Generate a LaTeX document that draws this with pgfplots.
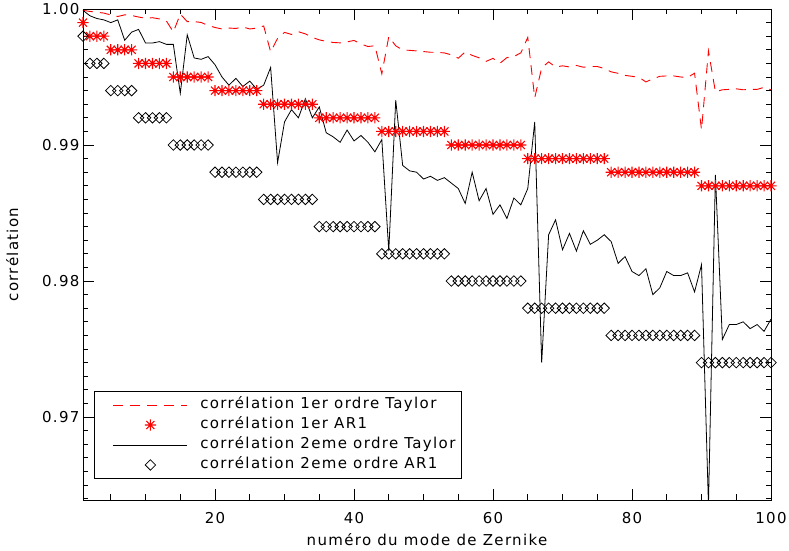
\documentclass[border=0pt]{standalone}
\usepackage{fontspec}
\setmainfont{DejaVu Sans}[LetterSpace=9]
\usepackage{pgfplots}
\usepackage{pgfplotstable}
\pgfplotsset{compat=1.18}

\pgfdeclareplotmark{ast8}{%
  \pgfpathmoveto{\pgfqpoint{0pt}{\pgfplotmarksize}}\pgfpathlineto{\pgfqpoint{0pt}{-\pgfplotmarksize}}%
  \pgfpathmoveto{\pgfqpoint{\pgfplotmarksize}{0pt}}\pgfpathlineto{\pgfqpoint{-\pgfplotmarksize}{0pt}}%
  \pgfpathmoveto{\pgfqpoint{0.72\pgfplotmarksize}{0.72\pgfplotmarksize}}\pgfpathlineto{\pgfqpoint{-0.72\pgfplotmarksize}{-0.72\pgfplotmarksize}}%
  \pgfpathmoveto{\pgfqpoint{-0.72\pgfplotmarksize}{0.72\pgfplotmarksize}}\pgfpathlineto{\pgfqpoint{0.72\pgfplotmarksize}{-0.72\pgfplotmarksize}}%
  \pgfusepathqstroke}

\pgfplotstableread{
n t1 a1 t2 a2
1 0.9999 0.999 0.9999 0.998
2 0.99982 0.998 0.9995 0.996
3 0.99976 0.998 0.9993 0.996
4 0.9997 0.998 0.9992 0.996
5 0.99956 0.997 0.9990 0.994
6 0.99945 0.997 0.9992 0.994
7 0.99957 0.997 0.9977 0.994
8 0.99952 0.997 0.9983 0.994
9 0.99941 0.996 0.9985 0.992
10 0.99932 0.996 0.9975 0.992
11 0.99936 0.996 0.9975 0.992
12 0.99927 0.996 0.9976 0.992
13 0.99912 0.996 0.9974 0.992
14 0.99831 0.995 0.9974 0.990
15 0.99963 0.995 0.9938 0.990
16 0.99907 0.995 0.9981 0.990
17 0.99907 0.995 0.9964 0.990
18 0.99901 0.995 0.9963 0.990
19 0.99879 0.995 0.9965 0.990
20 0.99864 0.994 0.9959 0.988
21 0.99853 0.994 0.9950 0.988
22 0.9986 0.994 0.9944 0.988
23 0.99857 0.994 0.9949 0.988
24 0.99868 0.994 0.9943 0.988
25 0.99853 0.994 0.9947 0.988
26 0.9986 0.994 0.9941 0.988
27 0.99875 0.993 0.9944 0.986
28 0.99685 0.993 0.9957 0.986
29 0.99784 0.993 0.9887 0.986
30 0.99828 0.993 0.9917 0.986
31 0.99813 0.993 0.9926 0.986
32 0.99833 0.993 0.9920 0.986
33 0.99817 0.993 0.9934 0.986
34 0.99791 0.993 0.9920 0.986
35 0.99773 0.992 0.9928 0.984
36 0.99762 0.992 0.9909 0.984
37 0.99754 0.992 0.9906 0.984
38 0.99751 0.992 0.9902 0.984
39 0.99758 0.992 0.9911 0.984
40 0.99769 0.992 0.9903 0.984
41 0.99743 0.992 0.9907 0.984
42 0.99724 0.992 0.9902 0.984
43 0.9973 0.992 0.9895 0.984
44 0.99523 0.991 0.9904 0.982
45 0.99797 0.991 0.9822 0.982
46 0.99729 0.991 0.9933 0.982
47 0.99699 0.991 0.9885 0.982
48 0.99696 0.991 0.9881 0.982
49 0.99692 0.991 0.9880 0.982
50 0.99687 0.991 0.9875 0.982
51 0.99682 0.991 0.9877 0.982
52 0.99681 0.991 0.9874 0.982
53 0.99677 0.991 0.9876 0.982
54 0.99663 0.990 0.9872 0.980
55 0.99638 0.990 0.9868 0.980
56 0.99685 0.990 0.9857 0.980
57 0.99659 0.990 0.9880 0.980
58 0.99641 0.990 0.9859 0.980
59 0.99615 0.990 0.9868 0.980
60 0.99637 0.990 0.9849 0.980
61 0.99601 0.990 0.9856 0.980
62 0.99643 0.990 0.9846 0.980
63 0.99651 0.990 0.9861 0.980
64 0.99677 0.990 0.9856 0.980
65 0.99791 0.989 0.9868 0.978
66 0.99347 0.989 0.9917 0.978
67 0.99567 0.989 0.9740 0.978
68 0.99611 0.989 0.9834 0.978
69 0.99574 0.989 0.9845 0.978
70 0.99582 0.989 0.9823 0.978
71 0.99574 0.989 0.9835 0.978
72 0.99585 0.989 0.9822 0.978
73 0.99572 0.989 0.9837 0.978
74 0.99577 0.989 0.9827 0.978
75 0.99577 0.989 0.9830 0.978
76 0.99563 0.989 0.9834 0.978
77 0.99538 0.988 0.9829 0.976
78 0.99527 0.988 0.9813 0.976
79 0.99512 0.988 0.9818 0.976
80 0.99505 0.988 0.9807 0.976
81 0.99497 0.988 0.9804 0.976
82 0.99464 0.988 0.9809 0.976
83 0.99486 0.988 0.9790 0.976
84 0.99505 0.988 0.9795 0.976
85 0.99508 0.988 0.9807 0.976
86 0.99508 0.988 0.9804 0.976
87 0.995 0.988 0.9804 0.976
88 0.99497 0.988 0.9806 0.976
89 0.99528 0.988 0.9792 0.976
90 0.99112 0.987 0.9812 0.974
91 0.99692 0.987 0.9635 0.974
92 0.99391 0.987 0.9878 0.974
93 0.99406 0.987 0.9757 0.974
94 0.99409 0.987 0.9768 0.974
95 0.99413 0.987 0.9768 0.974
96 0.99406 0.987 0.9770 0.974
97 0.99409 0.987 0.9765 0.974
98 0.99409 0.987 0.9768 0.974
99 0.99424 0.987 0.9763 0.974
100 0.99406 0.987 0.9772 0.974
}\datatable

\begin{document}
\begin{tikzpicture}
\begin{axis}[
  scale only axis,
  width=688bp, height=491bp,
  at={(0,0)}, anchor=south west,
  xmin=1, xmax=100,
  ymin=0.9639, ymax=1.0,
  xtick={20,40,60,80,100},
  minor xtick={5,10,...,100},
  ytick={0.97,0.98,0.99,1.00},
  minor ytick={0.964,0.965,0.966,0.967,0.968,0.969,0.971,0.972,0.973,0.974,0.975,0.976,0.977,0.978,0.979,0.981,0.982,0.983,0.984,0.985,0.986,0.987,0.988,0.989,0.991,0.992,0.993,0.994,0.995,0.996,0.997,0.998,0.999},
  major tick length=11bp, minor tick length=5.5bp,
  tick style={black, line width=0.7bp},
  axis line style={black, line width=0.9bp},
  /pgf/number format/assume math mode=true,
  yticklabel style={/pgf/number format/.cd, fixed, fixed zerofill, precision=2},
  xticklabel style={yshift=-9bp, /pgf/number format/.cd, fixed, precision=0},
  ticklabel style={font=\fontsize{15bp}{18bp}\selectfont},
  label style={font=\fontsize{15bp}{18bp}\selectfont},
  xlabel={numéro du mode de Zernike},
  ylabel={corrélation},
  xlabel style={at={(axis description cs:0.5,-0.0815)}, anchor=center},
  ylabel style={at={(axis description cs:-0.103,0.5)}, anchor=center},
  legend cell align=left,
  legend image code/.code={\path[draw=none] (-15bp,-1bp) rectangle (0bp,1bp); \draw[mark repeat=2,mark phase=2,#1] plot coordinates {(0bp,0bp) (37bp,0bp) (74bp,0bp)};},
  legend style={at={(0.016,0.043)}, anchor=south west, draw=black, line width=0.8bp, fill=white,
    font=\fontsize{15bp}{18bp}\selectfont, inner xsep=4bp, inner ysep=3.5bp, row sep=0bp,
    nodes={inner sep=1.5bp, text height=12.5bp, text depth=4.5bp},
    /tikz/every odd column/.append style={column sep=11bp}},
]
\addplot[red, line width=0.9bp, dash pattern=on 10bp off 7bp] table[x=n, y=t1] {\datatable};
\addlegendentry{corrélation 1er ordre Taylor}
\addplot[only marks, red, mark=ast8, mark size=5.6bp, mark options={line width=1.1bp}] table[x=n, y=a1] {\datatable};
\addlegendentry{corrélation 1er AR1}
\addplot[black, line width=0.8bp] table[x=n, y=t2] {\datatable};
\addlegendentry{corrélation 2eme ordre Taylor}
\addplot[only marks, black, mark=square, mark size=3.7bp, mark options={rotate=45, line width=0.8bp}] table[x=n, y=a2] {\datatable};
\addlegendentry{corrélation 2eme ordre AR1}
\end{axis}
\pgfresetboundingbox
\useasboundingbox (-83bp,-51bp) rectangle (706bp,500bp);
\end{tikzpicture}
\end{document}
